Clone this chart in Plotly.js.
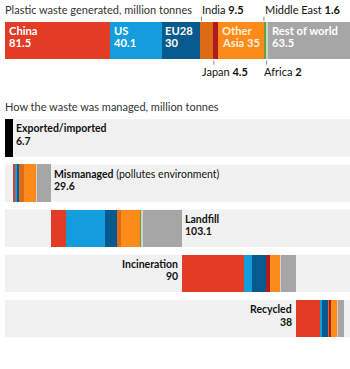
<!DOCTYPE html>
<html>
<head>
<meta charset="utf-8">
<script src="https://cdn.plot.ly/plotly-3.0.1.min.js"></script>
<style>html,body{margin:0;padding:0;background:#fff;}#chart{width:350px;height:369px;}</style>
</head>
<body>
<div id="chart"></div>
<script>
// ---------- data ----------
const regions = ['China', 'US', 'EU28', 'India', 'Japan', 'Other Asia', 'Middle East', 'Africa', 'Rest of world'];
const generated = [81.5, 40.1, 30, 9.5, 4.5, 35, 1.6, 2, 63.5];

const streams = ['Exported/imported', 'Mismanaged', 'Landfill', 'Incineration', 'Recycled'];
const streamTotals = [6.7, 29.6, 103.1, 90, 38];
const exportedValues = [6.7, 0, 0, 0, 0];
// per-region breakdown of each management stream (order = regions)
const mismanagedByRegion   = [1.1, 1.4, 1.9, 3.9, 0.1, 9.3, 0.3, 0.8, 10.8];
const landfillByRegion     = [11.6, 31.3, 8.9, 3.2, 0.3, 15.2, 0.4, 1.9, 30.3];
const incinerationByRegion = [49.4, 5.8, 11.0, 0.3, 3.4, 7.4, 0.4, 0.7, 11.6];
const recycledByRegion     = [19.0, 1.8, 4.2, 0.8, 1.8, 4.7, 0.2, 0.4, 5.1];

// ---------- styles ----------
const regionColors = ['#e23c27', '#139ddc', '#075a8d', '#dc6a17', '#ad1c1e', '#fd8b19', '#5ea53b', '#d2d2d2', '#a6a6a6'];
const FONT = 'Lato, "Noto Sans", sans-serif';
const W = 350, H = 369;
const py = p => 1 - p / H;   // pixel row -> paper
const px = p => p / W;       // pixel col -> paper

const cum = arr => { const out = []; let s = 0; arr.forEach(v => { out.push(s); s += v; }); return out; };
const genStart = cum(generated);
const rowOffset = cum(streamTotals);
const genTotal = generated.reduce((a, b) => a + b, 0);
const streamSum = streamTotals.reduce((a, b) => a + b, 0);

const traces = [];
// top bar
regions.forEach((r, i) => {
  traces.push({
    type: 'bar', orientation: 'h', x: [generated[i]], y: ['gen'], width: [1],
    xaxis: 'x', yaxis: 'y', marker: {color: regionColors[i], line: {width: 0}},
    hoverinfo: 'skip', showlegend: false, name: r
  });
});
// bottom waterfall rows
traces.push({
  type: 'bar', orientation: 'h', x: rowOffset, y: streams, xaxis: 'x2', yaxis: 'y2',
  marker: {color: 'rgba(0,0,0,0)', line: {width: 0}}, hoverinfo: 'skip', showlegend: false
});
traces.push({
  type: 'bar', orientation: 'h', x: exportedValues, y: streams, xaxis: 'x2', yaxis: 'y2',
  marker: {color: '#000000', line: {width: 0}}, hoverinfo: 'skip', showlegend: false
});
regions.forEach((r, i) => {
  traces.push({
    type: 'bar', orientation: 'h',
    x: [0, mismanagedByRegion[i], landfillByRegion[i], incinerationByRegion[i], recycledByRegion[i]],
    y: streams, xaxis: 'x2', yaxis: 'y2',
    marker: {color: regionColors[i], line: {width: 0}}, hoverinfo: 'skip', showlegend: false, name: r
  });
});

const ann = [];
const txt = (o) => Object.assign({showarrow: false, borderpad: 0, font: {family: FONT, size: 10.5, color: '#121212'}}, o);

// titles
ann.push(txt({text: 'Plastic waste generated, million tonnes', xref: 'paper', yref: 'paper', x: px(4), y: py(9.5), xanchor: 'left', yanchor: 'middle', font: {family: FONT, size: 11, color: '#333'}}));
ann.push(txt({text: 'How the waste was managed, million tonnes', xref: 'paper', yref: 'paper', x: px(4), y: py(106), xanchor: 'left', yanchor: 'middle', font: {family: FONT, size: 11, color: '#333'}}));

// inside labels of top bar
const insideLines = {
  'China': ['China', '81.5'], 'US': ['US', '40.1'], 'EU28': ['EU28', '30'],
  'Other Asia': ['Other', 'Asia 35'], 'Rest of world': ['Rest of world', '63.5']
};
regions.forEach((r, i) => {
  if (!insideLines[r]) return;
  const [l1, l2] = insideLines[r];
  [[l1, 30.5], [l2, 43]].forEach(([t, yy]) => {
    ann.push(txt({text: '<b>' + t + '</b>', xref: 'x', yref: 'paper', x: genStart[i], xshift: 2.5, y: py(yy),
      xanchor: 'left', yanchor: 'middle', font: {family: FONT, size: 11.2, color: r === 'Other Asia' ? '#fff1dd' : '#ffffff'}}));
  });
});
// outside labels of top bar
const outside = [
  {r: 'India', pos: 'above', shift: 0.5, tick: 0.8},
  {r: 'Japan', pos: 'below', shift: -12, tick: 1.0},
  {r: 'Middle East', pos: 'above', shift: 0, tick: 0.3},
  {r: 'Africa', pos: 'below', shift: -2.5, tick: 0.8}
];
const shapes = [];
outside.forEach(o => {
  const i = regions.indexOf(o.r);
  ann.push(txt({text: o.r + ' <b>' + generated[i] + '</b>', xref: 'x', yref: 'paper', x: genStart[i], xshift: o.shift,
    y: py(o.pos === 'above' ? 9.5 : 71.5), xanchor: 'left', yanchor: 'middle', font: {family: FONT, size: 11, color: '#121212'}}));
  const y0 = o.pos === 'above' ? 16.7 : 60.5, y1 = o.pos === 'above' ? 21 : 64.8;
  shapes.push({type: 'line', xref: 'x', yref: 'paper', x0: genStart[i] + o.tick, x1: genStart[i] + o.tick,
    y0: py(y0), y1: py(y1), line: {color: '#8a8a8a', width: 1}});
});

// row backgrounds
streams.forEach((s, i) => {
  shapes.push({type: 'rect', xref: 'paper', yref: 'y2', x0: px(5), x1: 1, y0: i - 0.415, y1: i + 0.415,
    fillcolor: '#f1f1f1', line: {width: 0}, layer: 'below'});
});

// row labels
const rowLabel = ['<b>Exported/imported</b>', '<b>Mismanaged</b> (pollutes environment)', '<b>Landfill</b>', '<b>Incineration</b>', '<b>Recycled</b>'];
const rowSide = ['after', 'after', 'after', 'before', 'before'];
streams.forEach((s, i) => {
  const after = rowSide[i] === 'after';
  const x = after ? rowOffset[i] + streamTotals[i] : rowOffset[i];
  const base = {xref: 'x2', yref: 'y2', x: x, y: s, xanchor: after ? 'left' : 'right', xshift: after ? 2 : -3, yanchor: 'middle', align: after ? 'left' : 'right'};
  ann.push(txt(Object.assign({}, base, {text: rowLabel[i], yshift: 9.5})));
  ann.push(txt(Object.assign({}, base, {text: '<b>' + streamTotals[i] + '</b>', yshift: -3})));
});

const layout = {
  width: W, height: H, margin: {l: 0, r: 0, t: 0, b: 0},
  paper_bgcolor: '#ffffff', plot_bgcolor: 'rgba(0,0,0,0)',
  barmode: 'stack', bargap: 0.17, showlegend: false,
  font: {family: FONT},
  xaxis: {domain: [px(5), 1], range: [0, genTotal], visible: false, fixedrange: true},
  yaxis: {domain: [py(59), py(22)], range: [-0.5, 0.5], visible: false, type: 'category', fixedrange: true},
  xaxis2: {domain: [px(5), px(344)], range: [0, streamSum], visible: false, anchor: 'y2', fixedrange: true},
  yaxis2: {domain: [py(341.1), py(115.4)], type: 'category', categoryarray: streams, range: [4.5, -0.5], visible: false, anchor: 'x2', fixedrange: true},
  annotations: ann, shapes: shapes
};
Plotly.newPlot('chart', traces, layout, {displayModeBar: false, staticPlot: true});
</script>
</body>
</html>
